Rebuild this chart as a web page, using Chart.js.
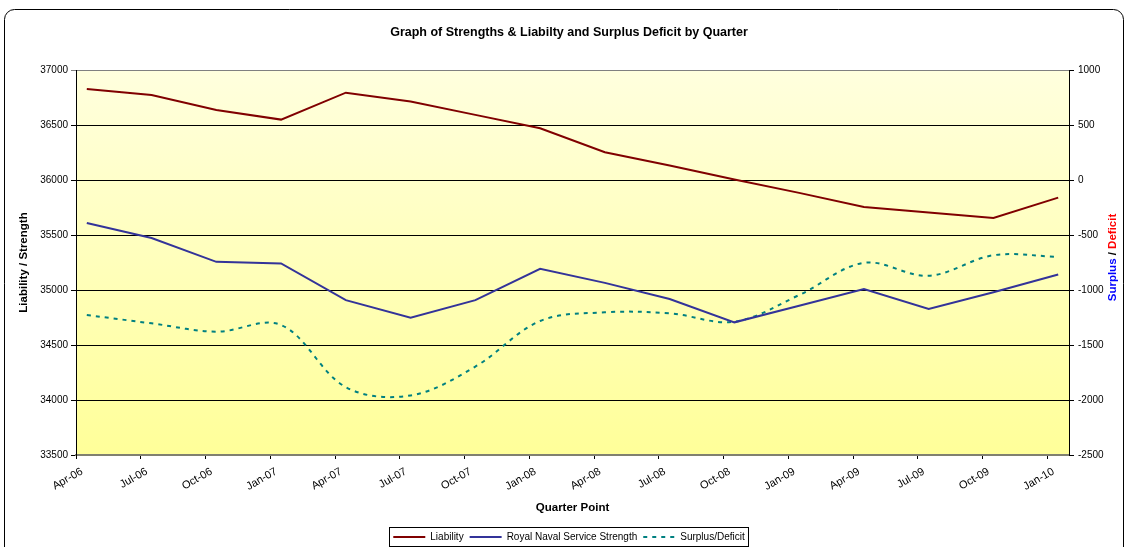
<!DOCTYPE html>
<html>
<head>
<meta charset="utf-8">
<script src="https://cdn.jsdelivr.net/npm/chart.js@4/dist/chart.umd.min.js"></script>
<style>
html, body { margin: 0; padding: 0; background: #fff; overflow: hidden; }
</style>
</head>
<body>
<canvas id="chart" width="1128" height="547"></canvas>
<script>
// quarter labels on the date axis (one tick every 3 months from Apr-06)
const quarterLabels = ['Apr-06', 'Jul-06', 'Oct-06', 'Jan-07', 'Apr-07', 'Jul-07', 'Oct-07', 'Jan-08',
    'Apr-08', 'Jul-08', 'Oct-08', 'Jan-09', 'Apr-09', 'Jul-09', 'Oct-09', 'Jan-10'];

// dates of the data points (they sit about mid-month)
const pointDates = ['2006-04-16', '2006-07-16', '2006-10-16', '2007-01-16', '2007-04-16', '2007-07-16',
    '2007-10-16', '2008-01-16', '2008-04-16', '2008-07-16', '2008-10-16', '2009-01-16',
    '2009-04-16', '2009-07-16', '2009-10-16', '2010-01-16'];

const liability = [36828, 36773, 36637, 36549, 36794, 36713, 36592, 36471,
    36253, 36132, 36005, 35883, 35754, 35704, 35655, 35840];
const strength = [35609, 35473, 35256, 35241, 34908, 34748, 34908, 35192,
    35065, 34918, 34706, 34857, 35008, 34827, 34980, 35141];
const surplus = [-1228, -1303, -1379, -1318, -1883, -1959, -1696, -1282,
    -1203, -1212, -1288, -1046, -753, -871, -684, -699];

const leftRange = [33500, 37000];
const rightRange = [-2500, 1000];

const FONT = "'Liberation Sans', Arial, sans-serif";
Chart.defaults.font.family = FONT;
Chart.defaults.color = '#000';

// months since 1 Apr 2006
function toMonth(s) {
    const p = s.split('-').map(Number);
    return (p[0] - 2006) * 12 + (p[1] - 4) + (p[2] - 1) / 30;
}
const xs = pointDates.map(toMonth);
const pts = (arr) => arr.map((v, i) => ({x: xs[i], y: v}));

const decor = {
    id: 'decor',
    afterLayout(chart) {
        // nudge legend a little lower, like the original
        chart.legend.top += 5;
        chart.legend.bottom += 5;
    },
    beforeDraw(chart) {
        const {ctx, chartArea: a} = chart;
        ctx.save();
        ctx.fillStyle = '#fff';
        ctx.fillRect(0, 0, chart.width, chart.height);

        // rounded outer frame
        const x0 = 4.5, y0 = 9.5, x1 = 1123.5, y1 = 560, r = 10;
        ctx.beginPath();
        ctx.moveTo(x0 + r, y0);
        ctx.lineTo(x1 - r, y0);
        ctx.arcTo(x1, y0, x1, y0 + r, r);
        ctx.lineTo(x1, y1);
        ctx.lineTo(x0, y1);
        ctx.lineTo(x0, y0 + r);
        ctx.arcTo(x0, y0, x0 + r, y0, r);
        ctx.strokeStyle = '#000';
        ctx.lineWidth = 1;
        ctx.stroke();

        // plot area gradient
        const g = ctx.createLinearGradient(0, a.top, 0, a.bottom);
        g.addColorStop(0, '#ffffde');
        g.addColorStop(1, '#ffff99');
        ctx.fillStyle = g;
        ctx.fillRect(a.left, a.top, a.width, a.height);
        ctx.restore();
    },
    afterDraw(chart) {
        const {ctx, chartArea: a} = chart;
        ctx.save();

        // right axis title in three colours
        ctx.translate(1113, a.top + a.height / 2 - 5);
        ctx.rotate(-Math.PI / 2);
        ctx.font = 'bold 11.5px ' + FONT;
        ctx.textBaseline = 'middle';
        const parts = [['Surplus', '#0000ff'], [' / ', '#000'], ['Deficit', '#ff0000']];
        let total = 0;
        parts.forEach(p => total += ctx.measureText(p[0]).width);
        let x = -total / 2;
        parts.forEach(p => {
            ctx.fillStyle = p[1];
            ctx.fillText(p[0], x, 0);
            x += ctx.measureText(p[0]).width;
        });
        ctx.restore();

        // box round the legend
        const boxes = chart.legend.legendHitBoxes;
        if (boxes && boxes.length) {
            let l = Infinity, r = -Infinity, t = Infinity, b = -Infinity;
            boxes.forEach(h => {
                l = Math.min(l, h.left);
                r = Math.max(r, h.left + h.width);
                t = Math.min(t, h.top);
                b = Math.max(b, h.top + h.height);
            });
            ctx.save();
            ctx.strokeStyle = '#000';
            ctx.lineWidth = 1;
            ctx.strokeRect(Math.round(l - 4) + 0.5, Math.round(t - 5) + 0.5,
                Math.round(r - l + 8), Math.round(b - t + 9));
            ctx.restore();
        }
    }
};

new Chart(document.getElementById('chart'), {
    type: 'line',
    data: {
        datasets: [
            {
                label: 'Liability',
                data: pts(liability),
                yAxisID: 'y',
                borderColor: '#800000',
                backgroundColor: '#800000',
                borderWidth: 2,
                pointRadius: 0,
                tension: 0
            },
            {
                label: 'Royal Naval Service Strength',
                data: pts(strength),
                yAxisID: 'y',
                borderColor: '#333399',
                backgroundColor: '#333399',
                borderWidth: 2,
                pointRadius: 0,
                tension: 0
            },
            {
                label: 'Surplus/Deficit',
                data: pts(surplus),
                yAxisID: 'y2',
                borderColor: '#008080',
                backgroundColor: '#008080',
                borderWidth: 2,
                borderDash: [4, 5],
                pointRadius: 0,
                tension: 0.35
            }
        ]
    },
    options: {
        responsive: false,
        animation: false,
        devicePixelRatio: 1,
        layout: {padding: {left: 10, right: 0, top: 0, bottom: 0}},
        plugins: {
            title: {
                display: true,
                text: 'Graph of Strengths & Liabilty and Surplus Deficit by Quarter',
                font: {size: 12.5, weight: 'bold'},
                color: '#000',
                padding: {top: 25, bottom: 30}
            },
            legend: {
                position: 'bottom',
                labels: {
                    usePointStyle: true,
                    pointStyle: 'line',
                    pointStyleWidth: 32,
                    font: {size: 10},
                    color: '#000',
                    padding: 6,
                    generateLabels: (chart) => {
                        const items = Chart.defaults.plugins.legend.labels.generateLabels(chart);
                        items.forEach(it => {
                            const ds = chart.data.datasets[it.datasetIndex];
                            it.lineDash = ds.borderDash || [];
                            it.lineWidth = ds.borderWidth;
                            it.strokeStyle = ds.borderColor;
                        });
                        return items;
                    }
                }
            },
            tooltip: {enabled: false}
        },
        scales: {
            x: {
                type: 'linear',
                min: 0,
                max: 46,
                afterFit: (s) => { s.height = 66; },
                afterBuildTicks: (s) => {
                    s.ticks = quarterLabels.map((l, i) => ({value: i * 3}));
                },
                ticks: {
                    callback: (v) => quarterLabels[v / 3],
                    minRotation: 30,
                    maxRotation: 30,
                    autoSkip: false,
                    labelOffset: 6,
                    padding: 6,
                    font: {size: 11}
                },
                grid: {drawOnChartArea: false, color: '#000', tickLength: 4},
                border: {display: true, color: '#808070', width: 2},
                title: {
                    display: true,
                    text: 'Quarter Point',
                    font: {size: 11.5, weight: 'bold'},
                    padding: {top: 0, bottom: 6}
                }
            },
            y: {
                position: 'left',
                min: leftRange[0],
                max: leftRange[1],
                afterFit: (s) => { s.width = 66; },
                ticks: {stepSize: 500, padding: 3, font: {size: 10}, callback: (v) => String(v)},
                grid: {
                    color: (c) => (c.tick && c.tick.value === leftRange[1]) ? '#808080' : '#000',
                    tickLength: 5
                },
                border: {display: true, color: '#000'},
                title: {
                    display: true,
                    text: 'Liability / Strength',
                    font: {size: 11.5, weight: 'bold'},
                    padding: {top: 7, bottom: 0}
                }
            },
            y2: {
                position: 'right',
                min: rightRange[0],
                max: rightRange[1],
                afterFit: (s) => { s.width = 59; },
                ticks: {stepSize: 500, padding: 4, font: {size: 10}, callback: (v) => String(v)},
                grid: {drawOnChartArea: false, color: '#000', tickLength: 5},
                border: {display: true, color: '#000'}
            }
        }
    },
    plugins: [decor]
});
</script>
</body>
</html>
